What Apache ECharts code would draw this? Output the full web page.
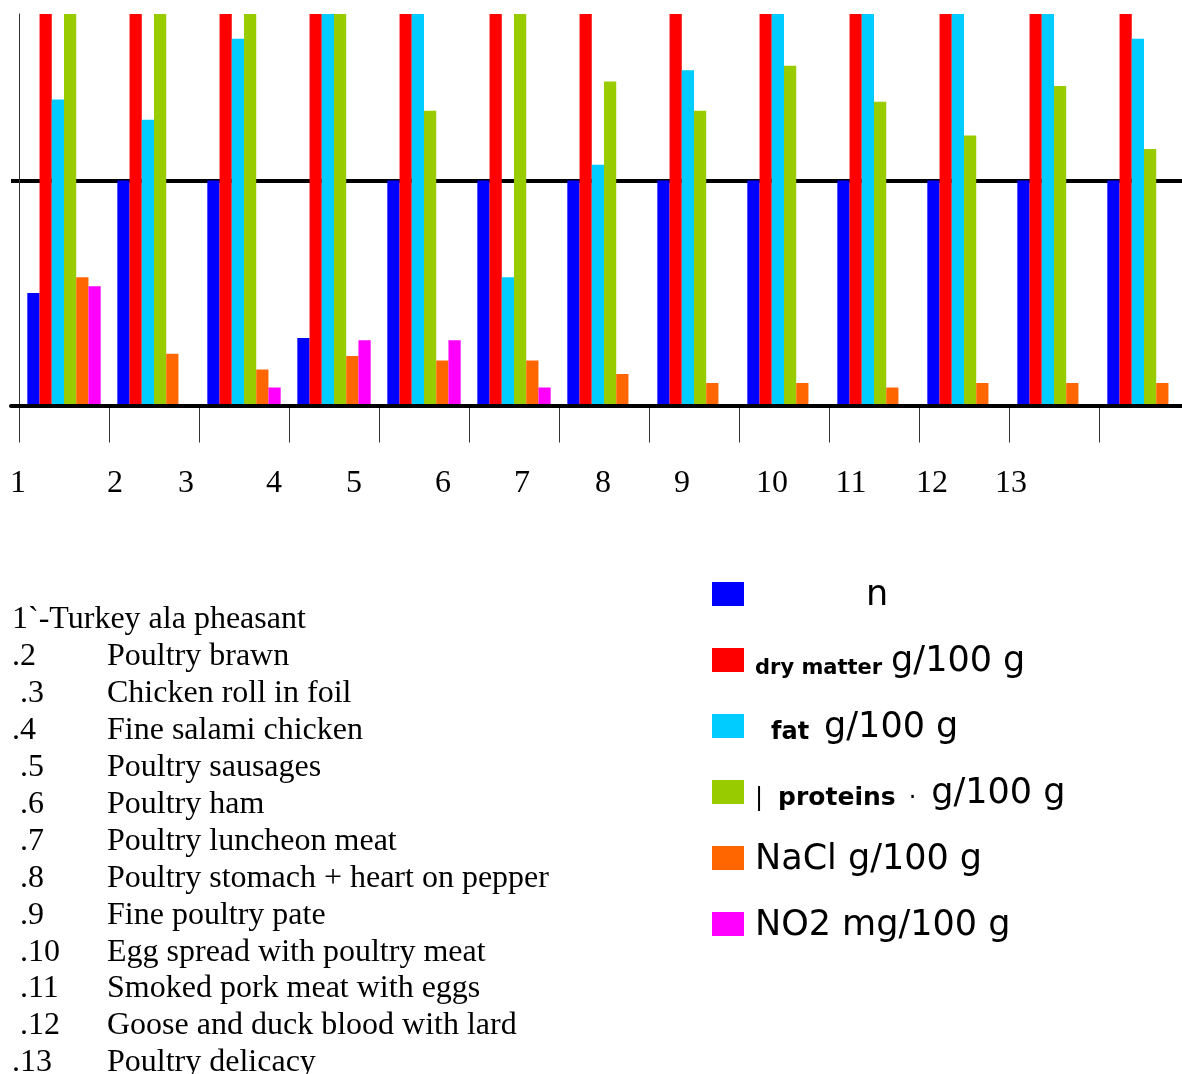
<!DOCTYPE html>
<html>
<head>
<meta charset="utf-8">
<script src="https://cdn.jsdelivr.net/npm/echarts@6/dist/echarts.min.js"></script>
<style>
html,body{margin:0;padding:0;background:#fff;}
#chart{width:1182px;height:1074px;}
</style>
</head>
<body>
<div id="chart"></div>
<script>
// ---- data ----
const categories = ['1','2','3','4','5','6','7','8','9','10','11','12','13'];
const seriesNames = ['n','dry matter g/100 g','fat g/100 g','proteins g/100 g','NaCl g/100 g','NO2 mg/100 g'];
const nValues    = [5, 10, 10, 3, 10, 10, 10, 10, 10, 10, 10, 10, 10];
const dryMatter  = [38, 35, 40, 45, 32, 30, 38, 35, 42, 33, 36, 40, 44];
const fatValues  = [13.6, 12.7, 16.3, 25, 22, 5.7, 10.7, 14.9, 19, 24, 26, 22, 16.3];
const proteins   = [19, 18, 20, 21, 13.1, 19, 14.4, 13.1, 15.1, 13.5, 12.0, 14.2, 11.4];
const naclValues = [5.7, 2.3, 1.6, 2.2, 2.0, 2.0, 1.4, 1.0, 1.0, 0.8, 1.0, 1.0, 1.0];
const no2Values  = [5.3, 0, 0.8, 2.9, 2.9, 0.8, 0, 0, 0, 0, 0, 0, 0];
const tickLabels = ['1','2','3','4','5','6','7','8','9','10','11','12','13'];
const productKeys = ["1`-", ".2", " .3", ".4", " .5", " .6", " .7", " .8", " .9", " .10", " .11", " .12", ".13"];
const productNames = ['Turkey ala pheasant','Poultry brawn','Chicken roll in foil','Fine salami chicken','Poultry sausages','Poultry ham','Poultry luncheon meat','Poultry stomach + heart on pepper','Fine poultry pate','Egg spread with poultry meat','Smoked pork meat with eggs','Goose and duck blood with lard','Poultry delicacy'];

// ---- layout / style ----
const colors = ['#0000ff','#ff0000','#00ccff','#99cc00','#ff6600','#ff00ff'];
const seriesData = [nValues, dryMatter, fatValues, proteins, naclValues, no2Values];
const tickLabelX = [18,115,186,274,354,443,522,603,682,772,851,932,1011];
const serif = '"Liberation Serif","Times New Roman",serif';
const sans = '"DejaVu Sans",sans-serif';

const legendText = {
  'n': '{nn|n}',
  'dry matter g/100 g': '{sm|dry matter}{bg|g/100 g}',
  'fat g/100 g': '{ft|fat}{bg2|g/100 g}',
  'proteins g/100 g': '{pp||}{pr|proteins}{dt|·}{bg3|g/100 g}',
  'NaCl g/100 g': '{bl|NaCl g/100 g}',
  'NO2 mg/100 g': '{bl|NO2 mg/100 g}'
};
const big = {fontFamily: sans, fontSize: 35, color: '#000', lineHeight: 44, verticalAlign: 'bottom'};
const rich = {
  nn: Object.assign({}, big, {padding: [0,0,0,117]}),
  sm: {fontFamily: sans, fontSize: 21, fontWeight: 'bold', color: '#000', lineHeight: 34, verticalAlign: 'bottom', padding: [0,0,0,6]},
  bg: Object.assign({}, big, {padding: [0,0,0,9]}),
  ft: {fontFamily: sans, fontSize: 24, fontWeight: 'bold', color: '#000', lineHeight: 36, verticalAlign: 'bottom', padding: [0,0,0,22]},
  bg2: Object.assign({}, big, {padding: [0,0,0,15]}),
  pp: {fontFamily: sans, fontSize: 24, color: '#000', lineHeight: 36, verticalAlign: 'bottom', padding: [0,0,0,6]},
  pr: {fontFamily: sans, fontSize: 25, fontWeight: 'bold', color: '#000', lineHeight: 37, verticalAlign: 'bottom', padding: [0,0,0,15]},
  dt: {fontFamily: sans, fontSize: 24, color: '#000', lineHeight: 36, verticalAlign: 'bottom', padding: [0,0,0,13]},
  bg3: Object.assign({}, big, {padding: [0,0,0,15]}),
  bl: Object.assign({}, big, {padding: [0,0,0,6]})
};

const graphics = [];
tickLabels.forEach((t, i) => {
  graphics.push({type: 'text', x: tickLabelX[i], y: 484, silent: true,
    style: {text: t, fill: '#000', font: '32px ' + serif, align: 'center', verticalAlign: 'middle'}});
});
productKeys.forEach((k, i) => {
  const y = 620 + i * 36.9;
  if (i === 0) {
    graphics.push({type: 'text', x: 12, y: y, silent: true,
      style: {text: k + productNames[i], fill: '#000', font: '32px ' + serif, align: 'left', verticalAlign: 'middle'}});
  } else {
    graphics.push({type: 'text', x: 12, y: y, silent: true,
      style: {text: k, fill: '#000', font: '32px ' + serif, align: 'left', verticalAlign: 'middle'}});
    graphics.push({type: 'text', x: 107, y: y, silent: true,
      style: {text: productNames[i], fill: '#000', font: '32px ' + serif, align: 'left', verticalAlign: 'middle'}});
  }
});

const YMAX = 17.4;
const chart = echarts.init(document.getElementById('chart'), null, {renderer: 'canvas'});
chart.setOption({
  animation: false,
  backgroundColor: '#fff',
  grid: [
    {left: 19, top: 14, width: 1170, height: 391.5, containLabel: false, outerBoundsMode: 'none'},
    {left: 11, top: 14, right: 0, height: 391.5, containLabel: false, outerBoundsMode: 'none'}
  ],
  xAxis: [
    {type: 'category', gridIndex: 0, data: categories, boundaryGap: true,
      axisLine: {show: false},
      axisTick: {show: true, length: 37, interval: 0, lineStyle: {color: '#333', width: 1}},
      axisLabel: {show: false}, splitLine: {show: false}},
    {type: 'value', gridIndex: 1, min: 0, max: 1, z: 3,
      axisLine: {show: true, onZero: false, lineStyle: {color: '#000', width: 4}},
      axisTick: {show: false}, axisLabel: {show: false}, splitLine: {show: false}}
  ],
  yAxis: [
    {type: 'value', gridIndex: 0, min: 0, max: YMAX,
      axisLine: {show: true, lineStyle: {color: '#333', width: 1}},
      axisTick: {show: false}, axisLabel: {show: false}, splitLine: {show: false}},
    {type: 'value', gridIndex: 1, min: 0, max: YMAX, interval: 10,
      axisLine: {show: false}, axisTick: {show: false}, axisLabel: {show: false},
      splitLine: {show: true, showMinLine: false, showMaxLine: false, lineStyle: {color: '#000', width: 4}}}
  ],
  legend: {
    orient: 'vertical', left: 712, top: 578, padding: 0,
    itemWidth: 32, itemHeight: 24, itemGap: 31, icon: 'rect',
    selectedMode: false,
    data: seriesNames,
    formatter: name => legendText[name],
    textStyle: {color: '#000', padding: [0, 0, 6, 0], rich: rich}
  },
  series: seriesNames.map((name, i) => ({
    name: name, type: 'bar', xAxisIndex: 0, yAxisIndex: 0,
    data: seriesData[i], clip: true,
    barGap: '0%', barCategoryGap: '18.5%',
    itemStyle: {color: colors[i]},
    emphasis: {disabled: true}
  })),
  graphic: graphics
});
</script>
</body>
</html>
